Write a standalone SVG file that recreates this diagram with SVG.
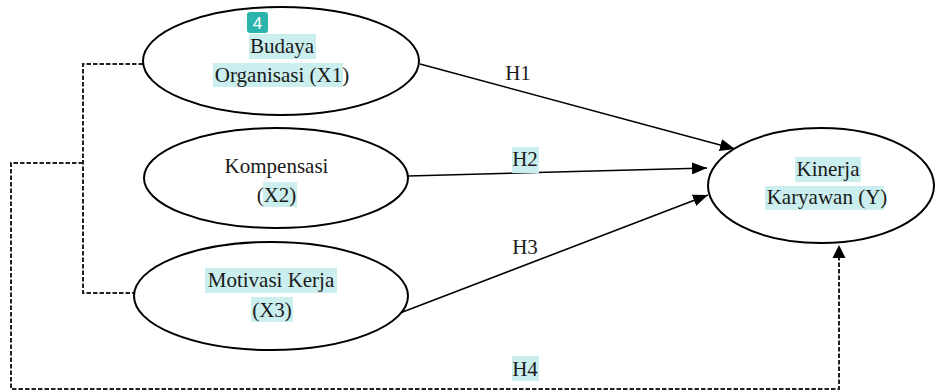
<svg xmlns="http://www.w3.org/2000/svg" width="936" height="392" viewBox="0 0 936 392">
<style>
.node ellipse{fill:#fff;stroke:#000;stroke-width:2}
text{font-family:"Liberation Serif","Times New Roman",serif;font-size:21px;fill:#1a1a1a;text-anchor:middle}
.hl{fill:#cbeeee}
.solid{fill:none;stroke:#000;stroke-width:1.6}
.dash{fill:none;stroke:#222;stroke-width:2;stroke-dasharray:4.5 2}
.badge{fill:#2bb3ad}
.badgetxt{fill:#fff;font-family:"Liberation Sans",Arial,sans-serif;font-size:17px}
</style>
<defs>
<marker id="ah" markerUnits="userSpaceOnUse" markerWidth="16" markerHeight="12" refX="15" refY="6" orient="auto">
<path d="M0,0 L15,6 L0,12 Z" fill="#000"/>
</marker>
</defs>
<g id="connectors">
<line class="solid" x1="420" y1="64" x2="735" y2="149" marker-end="url(#ah)"/>
<line class="solid" x1="408" y1="176" x2="707" y2="168" marker-end="url(#ah)"/>
<line class="solid" x1="400" y1="313" x2="708" y2="195" marker-end="url(#ah)"/>
<path class="dash" d="M143,64 H83 V293 H135"/>
<path class="dash" d="M83,163 H11 V389 H839 V258"/>
<path d="M839,245 L845.5,258 L832.5,258 Z" fill="#000"/>
<rect class="hl" x="512" y="147" width="27" height="26"/>
<rect class="hl" x="512" y="356" width="27" height="25"/>
<text x="518" y="80">H1</text>
<text x="525" y="166">H2</text>
<text x="525" y="254">H3</text>
<text x="525" y="376">H4</text>
</g>
<g id="x1" class="node">
<ellipse cx="281" cy="61" rx="138" ry="54"/>
<rect class="hl" x="249" y="34" width="67" height="25"/>
<rect class="hl" x="213" y="63" width="130" height="24"/>
<text x="282" y="53">Budaya</text>
<text x="282" y="82">Organisasi (X1)</text>
<rect class="badge" x="247" y="12" width="21" height="21" rx="3"/>
<text class="badgetxt" x="257.5" y="28.5">4</text>
</g>
<g id="x2" class="node">
<ellipse cx="276" cy="178" rx="132" ry="50"/>
<rect class="hl" x="263" y="182" width="34" height="25"/>
<text x="276.5" y="173">Kompensasi</text>
<text x="276.5" y="202">(X2)</text>
</g>
<g id="x3" class="node">
<ellipse cx="271" cy="296" rx="137" ry="54"/>
<rect class="hl" x="205" y="268" width="132" height="25"/>
<rect class="hl" x="251" y="297" width="42" height="25"/>
<text x="271" y="287">Motivasi Kerja</text>
<text x="272" y="317">(X3)</text>
</g>
<g id="y" class="node">
<ellipse cx="821" cy="185.5" rx="113" ry="57.5"/>
<rect class="hl" x="795" y="157" width="66" height="25"/>
<rect class="hl" x="765" y="186" width="119" height="24"/>
<text x="828" y="176">Kinerja</text>
<text x="827" y="204">Karyawan (Y)</text>
</g>
</svg>
